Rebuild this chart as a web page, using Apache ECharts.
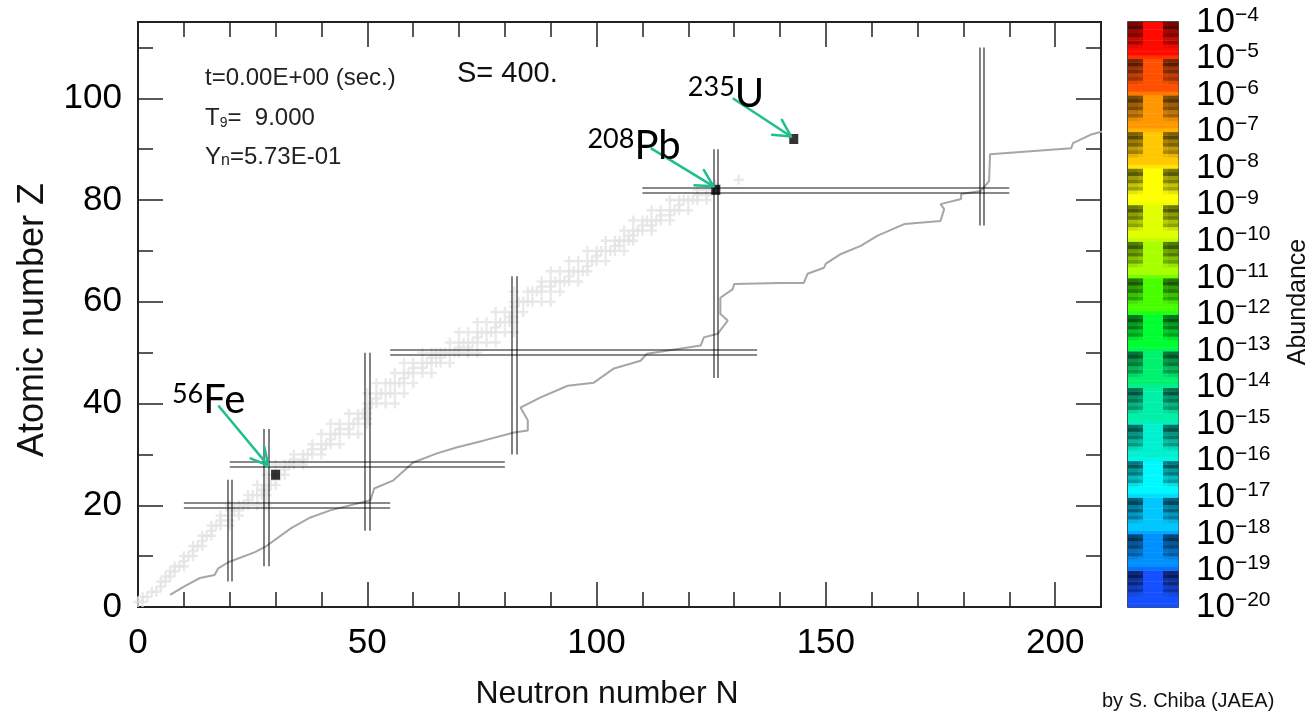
<!DOCTYPE html>
<html><head><meta charset="utf-8">
<script src="https://cdn.jsdelivr.net/npm/echarts@6/dist/echarts.min.js"></script>
<style>html,body{margin:0;padding:0;background:#fff}#c{width:1313px;height:712px}</style>
</head><body><div id="c"></div>
<script>
// ---- data ----
// stable nuclei (gray crosses): Z and the list of N values drawn for that Z
const stableZ = [1,2,3,4,5,6,7,8,9,10,11,12,13,14,15,16,17,18,19,20,21,22,23,24,25,26,27,28,29,30,31,32,33,34,35,36,37,38,39,40,41,42,44,45,46,47,48,49,50,51,52,53,54,55,56,57,58,59,60,62,63,64,65,66,67,68,69,70,71,72,73,74,75,76,77,78,79,80,81,82,83,84];
const stableN = [[0,1],[1,2],[3,4],[5],[5,6],[6,7],[7,8],[8,9,10],[10],[10,11,12],[12],[12,13,14],[14],[14,15,16],[16],[16,17,18,20],[18,20],[18,20,22],[20,21,22],[20,22,23,24,26,28],[24],[24,25,26,27,28],[27,28],[26,28,29,30],[30],[28,30,31,32],[32],[30,32,33,34,36],[34,36],[34,36,37,38,40],[38,40],[38,40,41,42,44],[42],[40,42,43,44,46,48],[44,46],[42,44,46,47,48,50],[48,50],[46,48,49,50],[50],[50,51,52,54,56],[52],[50,52,53,54,55,56,58],[52,54,55,56,57,58,60],[58],[56,58,59,60,62,64],[60,62],[58,60,62,63,64,65,66,68],[64,66],[62,64,65,66,67,68,69,70,72,74],[70,72],[68,70,71,72,73,74,76,78],[74],[70,72,74,75,76,77,78,80,82],[78],[74,76,78,79,80,81,82],[81,82],[78,80,82,84],[82],[82,83,84,85,86,88,90],[82,85,86,87,88,90,92],[88,90],[88,90,91,92,93,94,96],[94],[90,92,94,95,96,97,98],[98],[94,96,98,99,100,102],[100],[98,100,101,102,103,104,106],[104,105],[102,104,105,106,107,108],[107,108],[106,108,109,110,112],[110,112],[108,110,111,112,113,114,116],[114,116],[112,114,116,117,118,120],[118],[116,118,119,120,121,122,124],[122,124],[122,124,125,126],[126],[131]];

// gray step line
const lineN = [7,10,13.5,16.7,17.5,19.7,25.5,27.7,33.4,37.6,41.9,50.7,51.5,55.7,60,65.2,69.6,75.3,82,85,85,83.4,87.8,93.7,99.4,103.8,109.6,111,122.7,123.4,126.4,128.6,127,127,129.7,130,140,145.2,146,149.6,150,153.3,157.6,161.3,167.2,175,175.8,175,179.5,179.5,183.8,185.6,185.8,203.5,203.9,207.9,210.3];
const lineZ = [2.4,4,5.7,6.3,7.6,8.8,10.8,11.8,15.5,17.6,19,21,23.3,24.9,28.4,30.2,31.4,32.7,34.3,34.7,36.7,39.2,41.2,43.5,44.1,46.9,48.4,49.8,51.4,53,53.7,56.3,57.6,60.8,62.5,63.5,63.7,63.7,65.5,66.7,67.5,69.4,71,73,75.3,75.9,78.2,79.2,80.2,81.2,81.8,83.7,89,90.2,91.2,92.9,93.5];

// magic numbers (double lines)
const magicN = [20,28,50,82,126,184];
const magicNZmin = [5,8,15,30,45,75];
const magicNZmax = [25,35,50,65,90,110];
const magicZ = [20,28,50,82];
const magicZNmin = [10,20,55,110];
const magicZNmax = [55,80,135,190];

// highlighted nuclei
const nucSymbol = ['Fe','Pb','U'];
const nucMass = ['56','208','235'];
const nucN = [30,126,143];
const nucZ = [26,82,92];
// label anchors and arrows (data coordinates)
const labelN = [7.4,98,119.9];
const labelZ = [40.6,90.6,100.8];
const arrowFromN = [17.5,111.8,129.7];
const arrowFromZ = [39.6,90.2,100];
const arrowToN = [28.4,125.5,142.4];
const arrowToZ = [27.8,82.7,92.5];

// colour bar: one colour per decade, from 1e-20 (bottom) to 1e-4 (top)
const decadeColors = ['#1450ff','#0090ff','#00c8ff','#00f8ff','#00f0d0','#00f0a8','#00f070','#00ff30','#48ff00','#a8ff00','#e0ff00','#ffff00','#ffc800','#ff9800','#ff5000','#ff0a00'];
const expMin = -20, expMax = -4;

// ---- helpers ----
function hex2rgb(h){return [parseInt(h.substr(1,2),16),parseInt(h.substr(3,2),16),parseInt(h.substr(5,2),16)];}
function rgb(a){return 'rgb('+a.map(v=>Math.max(0,Math.min(255,Math.round(v)))).join(',')+')';}
function mix(a,b,t){return a.map((v,i)=>v*(1-t)+b[i]*t);}

const crossPts = [];
stableZ.forEach((z,i)=>stableN[i].forEach(n=>crossPts.push([n,z])));
const linePts = lineN.map((n,i)=>[n,lineZ[i]]);
const magicSegs = [];
magicN.forEach((n,i)=>{[-0.5,0.5].forEach(d=>magicSegs.push({coords:[[n+d,magicNZmin[i]],[n+d,magicNZmax[i]]]}));});
magicZ.forEach((z,i)=>{[-0.5,0.5].forEach(d=>magicSegs.push({coords:[[magicZNmin[i],z+d],[magicZNmax[i],z+d]]}));});
const nucPts = nucN.map((n,i)=>[n,nucZ[i]]);

// colour bar cells
const nDec = expMax-expMin;
const cbCells = [], cbColors = [];
for(let d=0; d<nDec; d++){
  const c = hex2rgb(decadeColors[d]);
  const lower = hex2rgb(decadeColors[Math.max(0,d-1)]);
  for(let r=0;r<10;r++){
    for(let col=0; col<10; col++){
      cbCells.push([col, d + r/10]);
      const side = col<3 || col>6;
      let color;
      if(r===0) color = mix(c,lower,0.55);
      else if(r<=2) color = c;
      else if(!side) color = c;
      else {
        let f = 0.28 + (9-r)*0.07 + (r%2===0 ? 0 : 0.2);
        if(col===2||col===7) f += 0.05;
        color = c.map(v=>v*f);
      }
      cbColors.push(rgb(color));
    }
  }
}

const FONT = 'Liberation Sans';
const TICK = {color:'#222', width:1.5};
function xAx(grid, pos, interval, len, labels){
  return {type:'value', gridIndex:grid, min:0, max:210, interval:interval, position:pos,
    axisLine:{show:false, onZero:false}, splitLine:{show:false},
    axisTick:{show:true, inside:true, length:len, lineStyle:TICK},
    axisLabel: labels ? {show:true, margin:19, fontSize:35, fontFamily:FONT, color:'#000',
      formatter: v => (v%50===0 ? String(v) : '')} : {show:false}};
}
function yAx(grid, pos, interval, len, labels){
  return {type:'value', gridIndex:grid, min:0, max:115, interval:interval, position:pos,
    axisLine:{show:false, onZero:false}, splitLine:{show:false},
    axisTick:{show:true, inside:true, length:len, lineStyle:TICK},
    axisLabel: labels ? {show:true, margin:16, fontSize:35, fontFamily:FONT, color:'#000',
      formatter: v => (v%20===0 && v<=100 ? String(v) : '')} : {show:false}};
}

const PLOT = {left:138, top:22, width:963, height:585};
const option = {
  animation:false,
  backgroundColor:'#fff',
  grid:[
    Object.assign({show:true, borderColor:'#222', borderWidth:2, backgroundColor:'#fff'}, PLOT),
    {left:1128, top:22, width:50, height:585, show:true, borderColor:'#111', borderWidth:1.5, backgroundColor:'transparent'},
    Object.assign({show:false}, PLOT)
  ],
  xAxis:[
    xAx(0,'bottom',10,15,true), xAx(0,'top',10,15,false),
    {type:'value', gridIndex:1, min:0, max:10, show:false},
    xAx(2,'bottom',50,25,false), xAx(2,'top',50,25,false)
  ],
  yAxis:[
    yAx(0,'left',10,15,true), yAx(0,'right',10,15,false),
    {type:'value', gridIndex:1, min:0, max:nDec, interval:1, position:'right',
      axisLine:{show:false, onZero:false}, axisTick:{show:false}, splitLine:{show:false},
      axisLabel:{show:true, margin:18, color:'#000',
        formatter: v => '{a|10}{b|\u2212' + (-(expMin+v)) + '}',
        rich:{a:{fontSize:35, fontFamily:FONT, color:'#000'}, b:{fontSize:21, fontFamily:FONT, color:'#000', verticalAlign:'top'}}}},
    yAx(2,'left',20,25,false), yAx(2,'right',20,25,false)
  ],
  series:[
    {type:'scatter', xAxisIndex:0, yAxisIndex:0, data:crossPts, z:1, silent:true,
      symbol:'path://M3.8,0H6.2V3.8H10V6.2H6.2V10H3.8V6.2H0V3.8H3.8Z', symbolSize:10,
      itemStyle:{color:'#e4e4e4'}},
    {type:'line', xAxisIndex:0, yAxisIndex:0, data:linePts, z:2, silent:true, symbol:'none',
      lineStyle:{color:'#a6a6a6', width:2}},
    {type:'lines', coordinateSystem:'cartesian2d', xAxisIndex:0, yAxisIndex:0, data:magicSegs, z:3, silent:true,
      lineStyle:{color:'rgba(0,0,0,0.62)', width:1.6, opacity:1}},
    {type:'scatter', xAxisIndex:0, yAxisIndex:0, data:nucPts, z:4, silent:true, symbol:'rect', symbolSize:[9,10],
      itemStyle:{color:'#000'}},
    {type:'custom', xAxisIndex:2, yAxisIndex:2, data:cbCells, silent:true,
      renderItem:function(params, api){
        const c = api.value(0), y = api.value(1);
        const p0 = api.coord([c, y]);
        const p1 = api.coord([c+1, y+0.1]);
        return {type:'rect', shape:{x:p0[0], y:p1[1], width:p1[0]-p0[0]+0.4, height:p0[1]-p1[1]+0.4},
          style:{fill:cbColors[params.dataIndex]}};
      }}
  ]
};

const chart = echarts.init(document.getElementById('c'));
chart.setOption(option);

const elements = [
  {type:'text', left:205, top:66, style:{text:'t=0.00E+00 (sec.)', font:'24px "Liberation Sans"', fill:'#222'}},
  {type:'text', left:205, top:106, style:{text:'T{s|9}=  9.000', font:'24px "Liberation Sans"', fill:'#222',
     rich:{s:{fontSize:14, fontFamily:FONT, verticalAlign:'bottom', fill:'#222'}}}},
  {type:'text', left:205, top:145, style:{text:'Y{s|n}=5.73E-01', font:'24px "Liberation Sans"', fill:'#222',
     rich:{s:{fontSize:16, fontFamily:FONT, verticalAlign:'bottom', fill:'#222'}}}},
  {type:'text', left:457, top:59, style:{text:'S= 400.', font:'29px "Liberation Sans"', fill:'#111'}},
  {type:'text', x:33, y:320, rotation:Math.PI/2, style:{text:'Atomic number Z', font:'36px "Liberation Sans"', fill:'#111', align:'center', verticalAlign:'middle'}},
  {type:'text', x:607, y:694, style:{text:'Neutron number N', font:'32px "Liberation Sans"', fill:'#111', align:'center', verticalAlign:'middle'}},
  {type:'text', x:1298, y:302, rotation:Math.PI/2, style:{text:'Abundance', font:'25px "Liberation Sans"', fill:'#111', align:'center', verticalAlign:'middle'}},
  {type:'text', x:1102, y:701, style:{text:'by S. Chiba (JAEA)', font:'20px "Liberation Sans"', fill:'#111', align:'left', verticalAlign:'middle'}}
];

const ARROW = '#1dbf8e';
for(let i=0;i<nucN.length;i++){
  const a = chart.convertToPixel({seriesIndex:0}, [arrowFromN[i], arrowFromZ[i]]);
  const b = chart.convertToPixel({seriesIndex:0}, [arrowToN[i], arrowToZ[i]]);
  const ang = Math.atan2(a[1]-b[1], a[0]-b[0]);
  const L = 19, spread = 28*Math.PI/180;
  elements.push({type:'line', z:10, shape:{x1:a[0],y1:a[1],x2:b[0],y2:b[1]}, style:{stroke:ARROW, lineWidth:2.5}});
  [-spread, spread].forEach(s=>{
    elements.push({type:'line', z:10, shape:{x1:b[0],y1:b[1],x2:b[0]+L*Math.cos(ang+s),y2:b[1]+L*Math.sin(ang+s)}, style:{stroke:ARROW, lineWidth:2.5, lineCap:'round'}});
  });
  const p = chart.convertToPixel({seriesIndex:0}, [labelN[i], labelZ[i]]);
  elements.push({type:'text', z:11, x:p[0], y:p[1], style:{
    text:'{s|'+nucMass[i]+'}{m|'+nucSymbol[i]+'}', align:'left', verticalAlign:'middle',
    rich:{s:{fontSize:27, fontFamily:'Lato', fill:'#000', verticalAlign:'top'},
          m:{fontSize:40, fontFamily:'Lato', fill:'#000'}}}});
}
chart.setOption({graphic:{elements:elements}});
</script>
</body></html>
